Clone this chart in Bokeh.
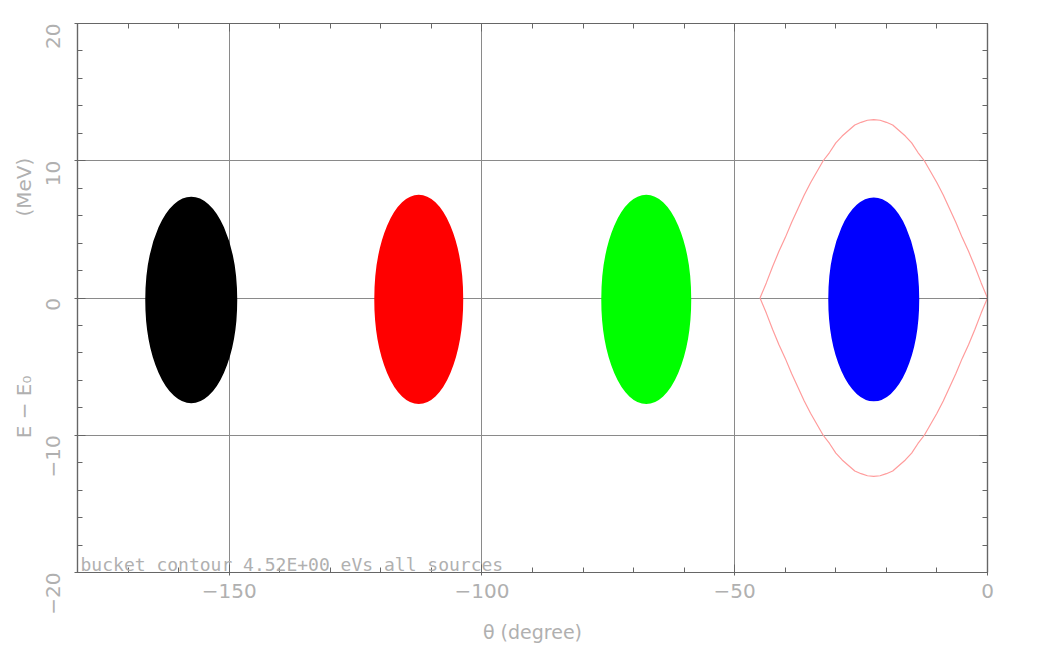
import math
from bokeh.plotting import figure
from bokeh.models import FixedTicker, LinearAxis, Label, Range1d, ColumnDataSource
from bokeh.embed import file_html
from bokeh.resources import INLINE

# ---- data ----
cloud_names = ["source 1", "source 2", "source 3", "source 4"]
cloud_theta = [-157.5, -112.5, -67.5, -22.5]      # centre phase (degree)
cloud_de = [-0.15, -0.1, -0.1, -0.1]              # centre E - E0 (MeV)
cloud_width = [17.8, 17.2, 17.4, 17.6]            # full width (degree)
cloud_height = [14.9, 15.1, 15.1, 14.7]           # full height (MeV)
cloud_colors = ["#000000", "#ff0000", "#00ff00", "#0000ff"]

# upper half of bucket contour (degree, MeV)
contour_theta = [-45.0, -43.75, -42.5, -41.25, -40.0, -38.75, -37.5, -36.25, -35.0, -33.75,
                 -32.5, -31.25, -30.0, -28.75, -27.5, -26.25, -25.0, -23.75, -22.5,
                 -21.25, -20.0, -18.75, -17.5, -16.25, -15.0, -13.75, -12.5, -11.25,
                 -10.0, -8.75, -7.5, -6.25, -5.0, -3.75, -2.5, -1.25, 0.0]
contour_de = [0.0, 1.1, 2.3, 3.4, 4.4, 5.5, 6.5, 7.5, 8.4, 9.2,
              10.0, 10.6, 11.3, 11.8, 12.2, 12.6, 12.8, 12.95, 13.0,
              12.95, 12.8, 12.6, 12.2, 11.8, 11.3, 10.6, 10.0, 9.2,
              8.4, 7.5, 6.5, 5.5, 4.4, 3.4, 2.3, 1.1, 0.0]

x_major = [-150, -100, -50, 0]
x_labels = {-150: "\u2212150", -100: "\u2212100", -50: "\u221250", 0: "0"}
y_major = [-20, -10, 0, 10, 20]
y_labels = {-20: "\u221220", -10: "\u221210", 0: "0", 10: "10", 20: "20"}

annotation = "bucket contour 4.52E+00 eVs all sources"
x_title = "\u03b8 (degree)"
y_title = "E \u2212 E\u2080" + "\u00a0" * 25 + "(MeV)"

# ---- figure ----
LABEL_COLOR = "#b0b0b0"
AXIS_COLOR = "#666666"
GRID_COLOR = "#8a8a8a"

p = figure(width=1031, height=645, x_range=Range1d(-180, 0), y_range=Range1d(-20, 20),
           output_backend="svg", toolbar_location=None,
           min_border_left=77, min_border_right=44, min_border_top=23, min_border_bottom=72)
p.outline_line_color = AXIS_COLOR
p.outline_line_width = 1.2
p.background_fill_color = "white"
p.border_fill_color = "white"

# main axes
xa = p.xaxis[0]
xa.ticker = FixedTicker(ticks=x_major, minor_ticks=list(range(-180, 1, 10)))
xa.major_label_overrides = x_labels
ya = p.yaxis[0]
ya.ticker = FixedTicker(ticks=y_major, minor_ticks=list(range(-20, 21, 2)))
ya.major_label_overrides = y_labels
ya.major_label_orientation = math.pi / 2

for ax in (xa, ya):
    ax.axis_line_color = AXIS_COLOR
    ax.axis_line_width = 1.2
    ax.major_tick_line_color = AXIS_COLOR
    ax.minor_tick_line_color = AXIS_COLOR
    ax.major_tick_in = 8
    ax.major_tick_out = 3
    ax.minor_tick_in = 5
    ax.minor_tick_out = 0
    ax.major_label_text_color = LABEL_COLOR
    ax.major_label_text_font = "DejaVu Sans"
    ax.major_label_text_font_size = "20px"
    ax.axis_label_text_color = LABEL_COLOR
    ax.axis_label_text_font = "DejaVu Sans"
    ax.axis_label_text_font_style = "normal"
    ax.axis_label_text_font_size = "19px"
xa.major_label_standoff = 8
ya.major_label_standoff = 22

xa.axis_label = x_title
xa.axis_label_standoff = 20
ya.axis_label = y_title
ya.axis_label_text_font_size = "20px"
ya.axis_label_standoff = 0

# top and right axes (ticks only)
top = LinearAxis(ticker=FixedTicker(ticks=x_major, minor_ticks=list(range(-180, 1, 10))))
right = LinearAxis(ticker=FixedTicker(ticks=y_major, minor_ticks=list(range(-20, 21, 2))))
top.major_label_overrides = {t: "" for t in x_major}
right.major_label_overrides = {t: "" for t in y_major}
for ax in (top, right):
    ax.axis_line_color = AXIS_COLOR
    ax.axis_line_width = 1.2
    ax.major_tick_line_color = AXIS_COLOR
    ax.minor_tick_line_color = AXIS_COLOR
    ax.major_tick_in = 8
    ax.major_tick_out = 0
    ax.minor_tick_in = 5
    ax.minor_tick_out = 0
    ax.major_label_text_font_size = "10px"
    ax.major_label_standoff = 0
p.add_layout(top, "above")
p.add_layout(right, "right")

# grid
p.xgrid.ticker = FixedTicker(ticks=[-150, -100, -50])
p.ygrid.ticker = FixedTicker(ticks=[-10, 0, 10])
for g in (p.xgrid[0], p.ygrid[0]):
    g.grid_line_color = GRID_COLOR
    g.grid_line_width = 1
    g.grid_line_alpha = 1

# particle clouds
src = ColumnDataSource(dict(x=cloud_theta, y=cloud_de, w=cloud_width, h=cloud_height,
                            c=cloud_colors, name=cloud_names))
p.ellipse(x="x", y="y", width="w", height="h", fill_color="c", line_color="c",
          line_width=2, source=src)

# bucket contour (upper half then mirrored lower half)
bx = contour_theta + contour_theta[::-1]
by = contour_de + [-v for v in contour_de[::-1]]
p.line(bx, by, line_color="#ff9c9c", line_width=1.2)

# annotation
p.add_layout(Label(x=-179.4, y=-19.45, text=annotation, text_font="DejaVu Sans Mono",
                   text_font_size="18px", text_color=LABEL_COLOR, text_baseline="alphabetic"))

open("out.html", "w").write(file_html(p, INLINE))
